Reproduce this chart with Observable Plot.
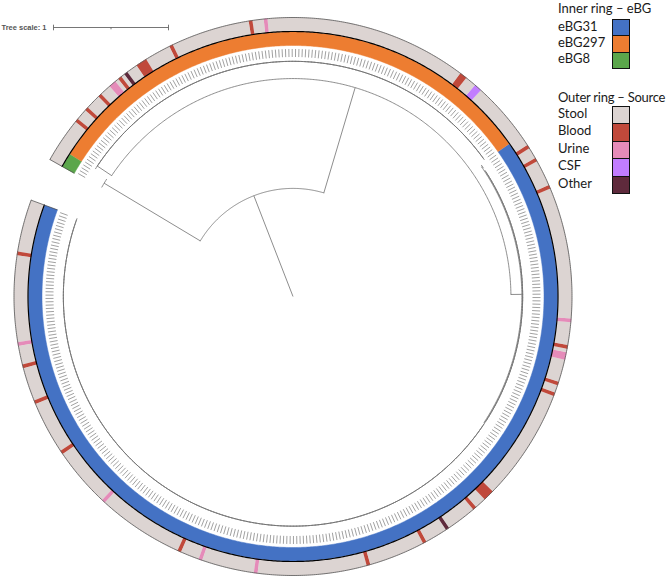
<!DOCTYPE html>
<html><head><meta charset="utf-8">
<script src="https://cdn.jsdelivr.net/npm/d3@7"></script>
<script src="https://cdn.jsdelivr.net/npm/@observablehq/plot@0.6"></script>
<style>
body{margin:0;background:#fff;}
#wrap{position:relative;width:672px;height:579px;overflow:hidden;font-family:Lato,"Open Sans",sans-serif;color:#1a1a1a;}
#wrap svg{position:absolute;left:0;top:0;}
.lg{position:absolute;font-size:13px;line-height:1;white-space:nowrap;}
.sw{position:absolute;width:18px;box-sizing:border-box;border:1px solid #111;}
</style></head><body><div id="wrap"></div>
<script>
// ---------------- DATA ----------------
const ebgGroups = ["eBG31", "eBG297", "eBG8"];
const ebgColors = ["#4472c4", "#ed7d31", "#5ba64b"];
const ebgLeafCounts = [302, 144, 4];            // leaves per eBG, in ring order

const sources = ["Stool", "Blood", "Urine", "CSF", "Other"];
const sourceColors = ["#dcd4d2", "#c0493b", "#e58bb9", "#c17dff", "#5f2a3c"];
// leaves whose source is not Stool (leaf index in ring order)
const sourceLeafIndex = [14, 38, 44, 54, 69, 86, 110, 116, 131, 161,
  177, 184, 193, 197, 198, 199, 230, 233, 240, 241, 243, 250,
  286, 294, 298, 318, 319, 323, 324, 379, 383, 405, 413, 414, 415,
  419, 421, 423, 424, 428, 433, 437];
const sourceLeafValue = ["Blood", "Urine", "Blood", "Blood", "Blood", "Urine", "Blood", "Urine", "Urine", "Blood",
  "Blood", "Other", "Blood", "Blood", "Blood", "Blood", "Blood", "Blood", "Urine", "Urine", "Blood", "Urine",
  "Blood", "Blood", "Blood", "CSF", "CSF", "Blood", "Blood", "Urine", "Blood", "Blood", "Blood", "Blood", "Blood",
  "Other", "Blood", "Urine", "Urine", "Blood", "Blood", "Blood"];

// tree: clades with parent, depth from root (tree units), form and leaf range
const cladeId       = ["A", "B", "C", "D", "E", "E1", "H", "H1", "H2"];
const cladeParent   = ["root", "A", "A", "C", "C", "E", "E", "H", "H"];
const cladeDepth    = [0.94, 1.915, 1.895, 2.045, 1.99, 1.997, 1.997, 1.997, 1.997];
const cladeForm     = ["node", "star", "node", "ladderEnd", "node", "star", "node", "ladderEnd", "ladderStart"];
const cladeLeafFrom = [null, 446, null, 302, null, 300, null, 0, 214];
const cladeLeafTo   = [null, 449, null, 445, null, 301, null, 213, 299];

const treeScaleLength = 1;
const treeScaleTicks = [0, 0.5, 1];

// ---------------- LAYOUT ----------------
const W = 672, H = 579, CX = 292.5, CY = 296;
const START = 159.8, SPAN = 350.8;      // degrees, counter-clockwise
const PX = 115;                         // px per tree unit
const RR = {dashIn: 239.5, dashOut: 247.5, inIn: 251, mid: 265, outOut: 279};

const N = d3.sum(ebgLeafCounts);
const STEP = SPAN / N;
const rad = a => a * Math.PI / 180;
const leafAngle = i => START + (i + 0.5) * STEP;
const P = (r, a) => [r * Math.cos(rad(a)), r * Math.sin(rad(a))];

const leafEbg = [];
ebgGroups.forEach((g, k) => { for (let j = 0; j < ebgLeafCounts[k]; j++) leafEbg.push(g); });
const leafSource = Array(N).fill("Stool");
sourceLeafIndex.forEach((i, k) => leafSource[i] = sourceLeafValue[k]);

function runs(cats) {
  const out = []; let s = 0;
  for (let i = 1; i <= cats.length; i++) {
    if (i === cats.length || cats[i] !== cats[s]) { out.push({cat: cats[s], from: s, to: i - 1}); s = i; }
  }
  return out;
}
function sectorPoints(runList, r1, r2, prefix) {
  const pts = [];
  runList.forEach((run, k) => {
    const a0 = START + run.from * STEP, a1 = START + (run.to + 1) * STEP;
    const n = Math.max(2, Math.ceil((a1 - a0) / 0.4) + 1), id = prefix + k;
    for (let j = 0; j < n; j++) { const [x, y] = P(r2, a0 + (a1 - a0) * j / (n - 1)); pts.push({id, cat: run.cat, x, y}); }
    for (let j = n - 1; j >= 0; j--) { const [x, y] = P(r1, a0 + (a1 - a0) * j / (n - 1)); pts.push({id, cat: run.cat, x, y}); }
  });
  return pts;
}
function arcPts(list) {
  const pts = [];
  list.forEach((arc, k) => {
    const n = Math.max(2, Math.ceil(Math.abs(arc.a1 - arc.a0) / 0.4) + 1);
    for (let j = 0; j < n; j++) { const [x, y] = P(arc.r, arc.a0 + (arc.a1 - arc.a0) * j / (n - 1)); pts.push({id: k, x, y}); }
  });
  return pts;
}

// build tree geometry
const treeArcs = [], treeBranches = [];
function build(id) {
  const k = cladeId.indexOf(id), r = cladeDepth[k] * PX, form = cladeForm[k];
  const f = cladeLeafFrom[k], l = cladeLeafTo[k];
  if (form === "star") {
    treeArcs.push({r, a0: leafAngle(f), a1: leafAngle(l)});
    return {angle: (leafAngle(f) + leafAngle(l)) / 2, r};
  }
  if (form === "ladderEnd") {
    let a = leafAngle(f);
    for (let i = f + 1; i <= l; i++) { const b = leafAngle(i); treeArcs.push({r, a0: a, a1: b}); a = (a + b) / 2; }
    return {angle: a, r};
  }
  if (form === "ladderStart") {
    let a = leafAngle(l);
    for (let i = l - 1; i >= f; i--) { const b = leafAngle(i); treeArcs.push({r, a0: b, a1: a}); a = (a + b) / 2; }
    return {angle: a, r};
  }
  const kids = cladeId.filter((c, j) => cladeParent[j] === id).map(build);
  const lo = d3.min(kids, c => c.angle), hi = d3.max(kids, c => c.angle);
  treeArcs.push({r, a0: lo, a1: hi});
  kids.forEach(c => { if (c.r > r + 0.01) treeBranches.push({a: c.angle, r0: r, r1: c.r}); });
  return {angle: (lo + hi) / 2, r};
}
const rootKid = cladeId.filter((c, j) => cladeParent[j] === "root").map(build)[0];
treeBranches.push({a: rootKid.angle, r0: 0, r1: rootKid.r});

const ebgPts = sectorPoints(runs(leafEbg), RR.inIn, RR.mid, "e");
const srcPts = sectorPoints(runs(leafSource), RR.mid, RR.outOut, "s");
const leaves = d3.range(N);
const END = START + SPAN;

// scale bar position (page px converted to centre-relative)
const SBX = 53 - CX, SBY = CY - 27;

const chart = Plot.plot({
  width: W, height: H, margin: 0,
  x: {domain: [-CX, W - CX], range: [0, W], axis: null},
  y: {domain: [CY, CY - H], range: [0, H], axis: null},
  color: {type: "ordinal", domain: [...ebgGroups, ...sources], range: [...ebgColors, ...sourceColors]},
  style: {background: "white", overflow: "visible"},
  marks: [
    // rings
    Plot.line(ebgPts, {x: "x", y: "y", z: "id", fill: "cat", stroke: "cat", strokeWidth: 0.5, curve: "linear"}),
    Plot.line(srcPts, {x: "x", y: "y", z: "id", fill: "cat", stroke: "cat", strokeWidth: 0.5, curve: "linear"}),
    Plot.line(arcPts([{r: RR.mid, a0: START, a1: END}]), {x: "x", y: "y", z: "id", stroke: "#000", strokeWidth: 1.2}),
    Plot.line(arcPts([{r: RR.outOut, a0: START, a1: END}]), {x: "x", y: "y", z: "id", stroke: "#555", strokeWidth: 0.8}),
    Plot.link([START, END], {
      x1: a => P(RR.inIn, a)[0], y1: a => P(RR.inIn, a)[1],
      x2: a => P(RR.outOut, a)[0], y2: a => P(RR.outOut, a)[1], stroke: "#444", strokeWidth: 0.7}),
    // leaf label dashes
    Plot.link(leaves, {
      x1: i => P(RR.dashIn, leafAngle(i))[0], y1: i => P(RR.dashIn, leafAngle(i))[1],
      x2: i => P(RR.dashOut, leafAngle(i))[0], y2: i => P(RR.dashOut, leafAngle(i))[1],
      stroke: "#9c9c9c", strokeWidth: 0.95}),
    // tree
    Plot.line(arcPts(treeArcs), {x: "x", y: "y", z: "id", stroke: "#707070", strokeWidth: 0.8}),
    Plot.link(treeBranches, {
      x1: d => P(d.r0, d.a)[0], y1: d => P(d.r0, d.a)[1],
      x2: d => P(d.r1, d.a)[0], y2: d => P(d.r1, d.a)[1], stroke: "#707070", strokeWidth: 0.8}),
    // tree scale
    Plot.link([treeScaleLength], {x1: () => SBX, x2: v => SBX + v * PX, y1: () => SBY, y2: () => SBY, stroke: "#666", strokeWidth: 0.9}),
    Plot.link(treeScaleTicks, {
      x1: v => SBX + v * PX, x2: v => SBX + v * PX,
      y1: v => SBY + ((v === 0 || v === treeScaleLength) ? 2.8 : 0), y2: v => SBY - ((v === 0 || v === treeScaleLength) ? 2.8 : 1.8),
      stroke: "#666", strokeWidth: 0.9}),
    Plot.text([`Tree scale: ${treeScaleLength}`], {x: () => 1 - CX, y: () => SBY, text: d => d, textAnchor: "start",
      fontSize: 7.5, fontWeight: 600, fill: "#555", fontFamily: "Liberation Sans, Arial, sans-serif"})
  ]
});
const wrap = document.getElementById("wrap");
wrap.appendChild(chart);

// legend (HTML, overlaid top-right)
function addLegend(title, titleY, names, colors, y0, h) {
  const t = document.createElement("div"); t.className = "lg"; t.textContent = title;
  t.style.left = "558px"; t.style.top = (titleY - 7) + "px"; wrap.appendChild(t);
  if (title.length > 17) t.style.letterSpacing = "-0.25px";
  names.forEach((n, k) => {
    const s = document.createElement("div"); s.className = "sw";
    s.style.left = "612px"; s.style.top = (y0 + k * (h - 1)) + "px"; s.style.height = h + "px"; s.style.background = colors[k];
    wrap.appendChild(s);
    const l = document.createElement("div"); l.className = "lg"; l.textContent = n;
    l.style.left = "558px"; l.style.top = (y0 + k * (h - 1) + h / 2 - 8) + "px"; wrap.appendChild(l);
  });
}
addLegend("Inner ring – eBG", 9, ebgGroups, ebgColors, 19, 17.3);
addLegend("Outer ring – Source", 98, sources, sourceColors, 105.5, 18.5);
</script></body></html>
